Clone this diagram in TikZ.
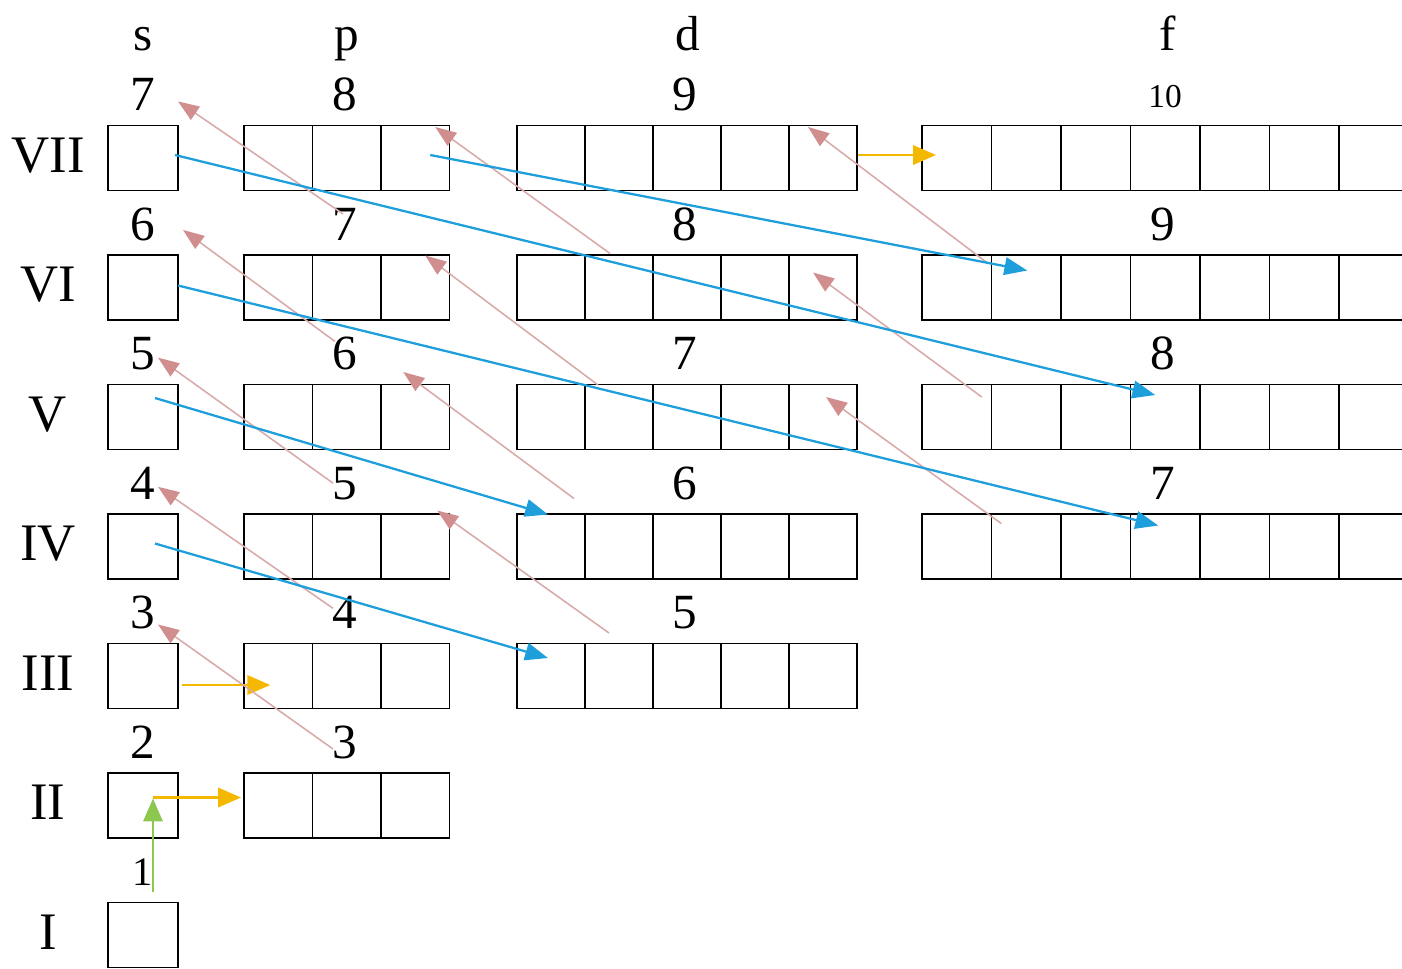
\documentclass[tikz,border=0pt]{standalone}
\usepackage{fontspec}
\setmainfont{Liberation Serif}
\usetikzlibrary{arrows.meta}
\definecolor{fillblue}{HTML}{1E9FDC}
\definecolor{linepink}{HTML}{D9AAAA}
\definecolor{headpink}{HTML}{D08E8E}
\definecolor{fillyellow}{HTML}{F5B800}
\definecolor{fillgreen}{HTML}{8CC850}

\begin{document}
\begin{tikzpicture}[
  x=0.02cm, y=-0.02cm,
  every node/.style={font=\fontsize{28pt}{30pt}\selectfont, inner sep=0pt},
  cell/.style={draw, line width=1.1pt, minimum height=1.3cm},
  num/.style={anchor=base},
  roman/.style={anchor=base, font=\fontsize{30pt}{32pt}\selectfont},
  pinkarr/.style={draw=linepink, line width=0.9pt, -{Triangle[length=12pt, width=9pt, color=headpink]}},
  bluearr/.style={draw=fillblue, line width=1.3pt, -{Triangle[length=13pt, width=10pt]}},
  yellowarr/.style={draw=fillyellow, line width=1.2pt, -{Triangle[length=13pt, width=11pt]}},
  greenarr/.style={draw=fillgreen, line width=1.2pt, -{Triangle[length=13pt, width=11pt]}},
]
\useasboundingbox (0,0) rectangle (1402,968);

% column heads
\node[num] (cs) at (143,50) {s};
\node[num] (cp) at (347,50) {p};
\node[num] (cd) at (688,50) {d};
\node[num] (cf) at (1168,50) {f};

% shells
\foreach \n/\r in {1/I,2/II,3/III,4/IV,5/V,6/VI,7/VII}
  \node[roman] (r\n) at (48, {172+(7-\n)*129.5}) {\r};

% cells
\foreach \n in {1,...,7}
  \node[cell, minimum width=1.4cm] (s\n) at (143, {158+(7-\n)*129.5}) {};
\foreach \n in {2,...,7}
  \foreach \i in {1,2,3}
    \node[cell, minimum width=1.37cm] (p\n-\i) at ({244+68.5*(\i-0.5)}, {158+(7-\n)*129.5}) {};
\foreach \n in {3,...,7}
  \foreach \i in {1,...,5}
    \node[cell, minimum width=1.36cm] (d\n-\i) at ({517+68*(\i-0.5)}, {158+(7-\n)*129.5}) {};
\foreach \n in {4,...,7}
  \foreach \i in {1,...,7}
    \node[cell, minimum width=1.39cm] (f\n-\i) at ({922+69.5*(\i-0.5)}, {158+(7-\n)*129.5}) {};

% n+l values
\node[num, font=\fontsize{23pt}{25pt}\selectfont] (ls1) at (143,885) {1};
\foreach \n in {2,...,7} {
  \pgfmathtruncatemacro{\np}{\n+1}
  \node[num] (ls\n) at (143, {110.5+(7-\n)*129.5}) {\n};
  \node[num] (lp\n) at (345, {110.5+(7-\n)*129.5}) {\np};
}
\foreach \n in {3,...,7} {
  \pgfmathtruncatemacro{\nd}{\n+2}
  \node[num] (ld\n) at (685, {110.5+(7-\n)*129.5}) {\nd};
}
\foreach \n in {4,5,6} {
  \pgfmathtruncatemacro{\nf}{\n+3}
  \node[num] (lf\n) at (1163, {110.5+(7-\n)*129.5}) {\nf};
}
\node[num, font=\fontsize{19pt}{21pt}\selectfont] (lf7) at (1165,107) {10};

% filling order
\draw[greenarr] ([shift={(10,-43)}]s1.center) -- ([shift={(10,-7)}]s2.center);
\draw[yellowarr] ([shift={(10,-8)}]s2.center) -- ([shift={(-2,-8)}]p2-1.west);
\draw[yellowarr] ([shift={(39,9)}]s3.center) -- ([shift={(-8,9)}]p3-1.center);
\draw[yellowarr] ([shift={(0,-3)}]d7-5.east) -- ([shift={(15,-3)}]f7-1.west);

\draw[pinkarr] ([shift={(-12,7)}]lp2.center) -- ([shift={(15,12)}]ls3.center);
\draw[pinkarr] ([shift={(-12,-4)}]lp3.center) -- ([shift={(15,4)}]ls4.center);
\draw[pinkarr] ([shift={(-12,0)}]lp4.center) -- ([shift={(15,4)}]ls5.center);
\draw[pinkarr] ([shift={(58,-43)}]d3-1.center) -- ([shift={(22,-36)}]p4-3.center);
\draw[pinkarr] ([shift={(23,-48)}]d4-1.center) -- ([shift={(-12,-45)}]p5-3.center);
\draw[pinkarr] ([shift={(-10,-12)}]lp5.center) -- ([shift={(40,6)}]ls6.center);
\draw[pinkarr] ([shift={(-25,-23)}]f4-2.center) -- ([shift={(3,-20)}]d5-5.center);
\draw[pinkarr] ([shift={(47,-32)}]d5-1.center) -- ([shift={(10,-32)}]p6-3.center);
\draw[pinkarr] ([shift={(-2,-10)}]lp6.center) -- ([shift={(35,7)}]ls7.center);
\draw[pinkarr] ([shift={(25,-20)}]f5-1.center) -- ([shift={(-10,-15)}]d6-5.center);
\draw[pinkarr] ([shift={(-9,-34)}]d6-2.center) -- ([shift={(20,-31)}]p7-3.center);
\draw[pinkarr] ([shift={(30,-25)}]f6-1.center) -- ([shift={(-15,-31)}]d7-5.center);

\draw[bluearr] ([shift={(12,-3)}]s4.center) -- ([shift={(-3,-18)}]d3-1.center);
\draw[bluearr] ([shift={(12,-19)}]s5.center) -- ([shift={(-3,-32)}]d4-1.center);
\draw[bluearr] ([shift={(35,-2)}]s6.center) -- ([shift={(-7,-21)}]f4-4.center);
\draw[bluearr] ([shift={(32,-3)}]s7.center) -- ([shift={(-10,-22)}]f5-4.center);
\draw[bluearr] ([shift={(15,-3)}]p7-3.center) -- ([shift={(1,-17)}]f6-2.center);

\end{tikzpicture}
\end{document}
